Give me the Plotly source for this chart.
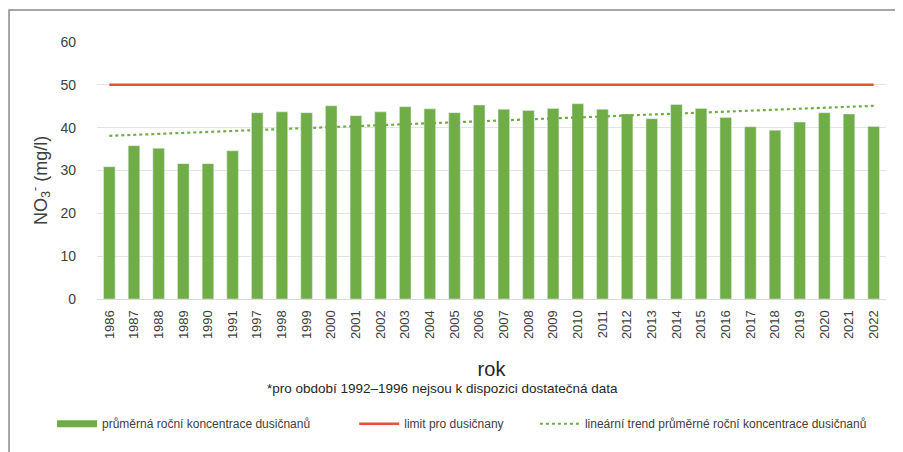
import plotly.graph_objects as go

years = ["1986", "1987", "1988", "1989", "1990", "1991",
         "1997", "1998", "1999", "2000", "2001", "2002", "2003", "2004", "2005", "2006",
         "2007", "2008", "2009", "2010", "2011", "2012", "2013", "2014", "2015", "2016",
         "2017", "2018", "2019", "2020", "2021", "2022"]
nitrate = [30.9, 35.8, 35.2, 31.6, 31.6, 34.6,
           43.5, 43.7, 43.5, 45.1, 42.8, 43.7, 44.9, 44.4, 43.5, 45.3,
           44.3, 44.0, 44.5, 45.6, 44.3, 43.2, 42.1, 45.4, 44.5, 42.4,
           40.2, 39.4, 41.3, 43.5, 43.2, 40.3]
limit_value = 50
trend_years = ["1986", "2022"]
trend_values = [38.1, 45.1]

GREEN = "#70AD47"
RED = "#E8503A"
TEXT = "#404040"
FONT = "Liberation Sans Narrow, Liberation Sans, Arial, sans-serif"

fig = go.Figure()
fig.add_trace(go.Bar(x=years, y=nitrate, marker_color=GREEN, showlegend=False))
fig.add_trace(go.Scatter(x=years, y=[limit_value] * len(years), mode="lines",
                         line=dict(color=RED, width=2.5), showlegend=False))
fig.add_trace(go.Scatter(x=trend_years, y=trend_values, mode="lines",
                         line=dict(color=GREEN, width=2.2, dash="dot"), showlegend=False))

# legend entries, each in its own legend so they can be placed like the original
fig.add_trace(go.Scatter(x=[None], y=[None], mode="lines", line=dict(color=GREEN, width=7),
                         name="průměrná roční koncentrace dusičnanů", legend="legend"))
fig.add_trace(go.Scatter(x=[None], y=[None], mode="lines", line=dict(color=RED, width=2.5),
                         name="limit pro dusičnany", legend="legend2"))
fig.add_trace(go.Scatter(x=[None], y=[None], mode="lines", line=dict(color=GREEN, width=2, dash="dot"),
                         name="lineární trend průměrné roční koncentrace dusičnanů", legend="legend3"))

leg = dict(orientation="h", yanchor="middle", xanchor="left", y=-0.485,
           font=dict(size=12, color=TEXT, family=FONT), bgcolor="rgba(0,0,0,0)",
           itemwidth=40)
# the page body has an 8px margin, so margins are offset by that much
fig.update_layout(
    width=903, height=452,
    margin=dict(l=89, r=25, t=34, b=161, autoexpand=False),
    paper_bgcolor="white", plot_bgcolor="white",
    font=dict(family=FONT, color=TEXT),
    bargap=0.53,
    legend=dict(leg, x=-0.057),
    legend2=dict(leg, x=0.326),
    legend3=dict(leg, x=0.555),
    shapes=[dict(type="rect", xref="paper", yref="paper", x0=-0.1115, x1=1.05, y0=-0.7, y1=1.1245,
                 line=dict(color="#8a8a8a", width=1.5), fillcolor="rgba(0,0,0,0)", layer="below")],
    annotations=[
        dict(text="*pro období 1992–1996 nejsou k dispozici dostatečná data",
             xref="paper", yref="paper", x=0.4385, y=-0.387, showarrow=False,
             font=dict(size=13.5, color="#262626", family=FONT)),
        dict(text="NO<sub>3</sub><sup>-</sup> (mg/l)", textangle=-90,
             xref="paper", yref="paper", x=-0.0722, y=0.459, showarrow=False,
             xanchor="center", yanchor="middle",
             font=dict(size=18, color=TEXT, family=FONT)),
    ],
)
fig.update_xaxes(type="category", tickangle=-90, tickfont=dict(size=13, color=TEXT),
                 title=dict(text="rok", font=dict(size=20, color="#262626"), standoff=23),
                 showline=True, linecolor="#d9d9d9", ticks="", ticklabelstandoff=5,
                 automargin=False)
fig.update_yaxes(range=[0, 60], dtick=10, tickfont=dict(size=14, color=TEXT),
                 gridcolor="#e3e3e3", zeroline=False, ticks="", ticklabelstandoff=20,
                 automargin=False)

fig.write_html("out.html")
